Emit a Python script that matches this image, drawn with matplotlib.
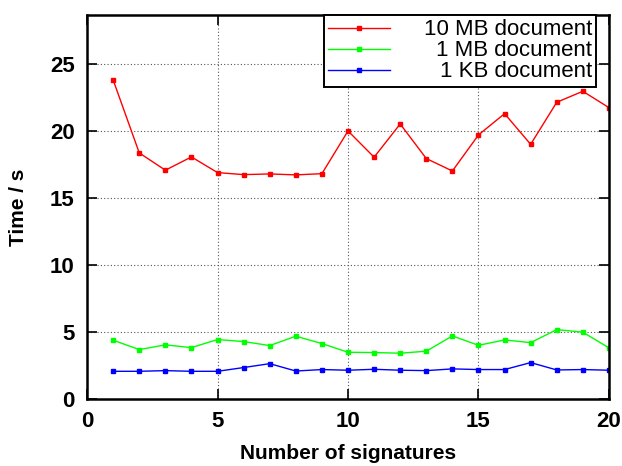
import numpy as np
import matplotlib
matplotlib.use("Agg")
import matplotlib.pyplot as plt

plt.rcParams['font.family'] = ['Liberation Sans', 'DejaVu Sans']

# 資料
signatures = list(range(1, 21))
doc_10mb = [23.8, 18.36, 17.07, 18.06, 16.89, 16.74, 16.79, 16.72, 16.81, 20.0,
            18.04, 20.52, 17.94, 17.01, 19.7, 21.29, 19.0, 22.14, 22.96, 21.74]
doc_1mb = [4.38, 3.68, 4.03, 3.83, 4.43, 4.28, 3.98, 4.68, 4.13, 3.48,
           3.46, 3.41, 3.56, 4.7, 4.0, 4.4, 4.2, 5.17, 4.98, 3.81]
doc_1kb = [2.06, 2.06, 2.11, 2.06, 2.06, 2.34, 2.63, 2.08, 2.19, 2.14,
           2.21, 2.14, 2.11, 2.24, 2.19, 2.19, 2.71, 2.16, 2.19, 2.14]
labels = ["10 MB document", "1 MB document", "1 KB document"]
colors = ["#ff0000", "#00ff00", "#0000ff"]

fig = plt.figure(figsize=(6.22, 4.66), dpi=100)
ax = fig.add_axes([0.140, 0.144, 0.839, 0.824])

for ys, lab, c in zip([doc_10mb, doc_1mb, doc_1kb], labels, colors):
    ax.plot(signatures, ys, color=c, lw=1, marker='s', ms=2.2, label=lab)

ax.set_xlim(0, 20)
ax.set_ylim(0, 28.66)
ax.set_xticks([0, 5, 10, 15, 20])
ax.set_yticks([0, 5, 10, 15, 20, 25])
ax.grid(True, color='#555555', linestyle=(0, (1, 2)), lw=0.8)
ax.tick_params(direction='in', length=7, width=1.2, top=True, right=True,
               labelsize=16, pad=9)
for t in ax.get_xticklabels() + ax.get_yticklabels():
    t.set_fontweight('bold')
for s in ax.spines.values():
    s.set_linewidth(1.8)

ax.set_xlabel("Number of signatures", fontsize=15, fontweight='bold', labelpad=8)
ax.set_ylabel("Time / s", fontsize=15, fontweight='bold', labelpad=16)

leg = ax.legend(loc='upper right', bbox_to_anchor=(0.976, 1.0), fontsize=16,
                fancybox=False, framealpha=1, edgecolor='black',
                handlelength=2.8, handletextpad=1.5, borderpad=0.2,
                labelspacing=0.0, borderaxespad=0)
leg.get_frame().set_linewidth(1.4)

# 文字靠右對齊
fig.canvas.draw()
widths = [t.get_window_extent().width for t in leg.get_texts()]
for t, w in zip(leg.get_texts(), widths):
    t.set_position((max(widths) - w, 0))

fig.savefig("out.png", dpi=100)
